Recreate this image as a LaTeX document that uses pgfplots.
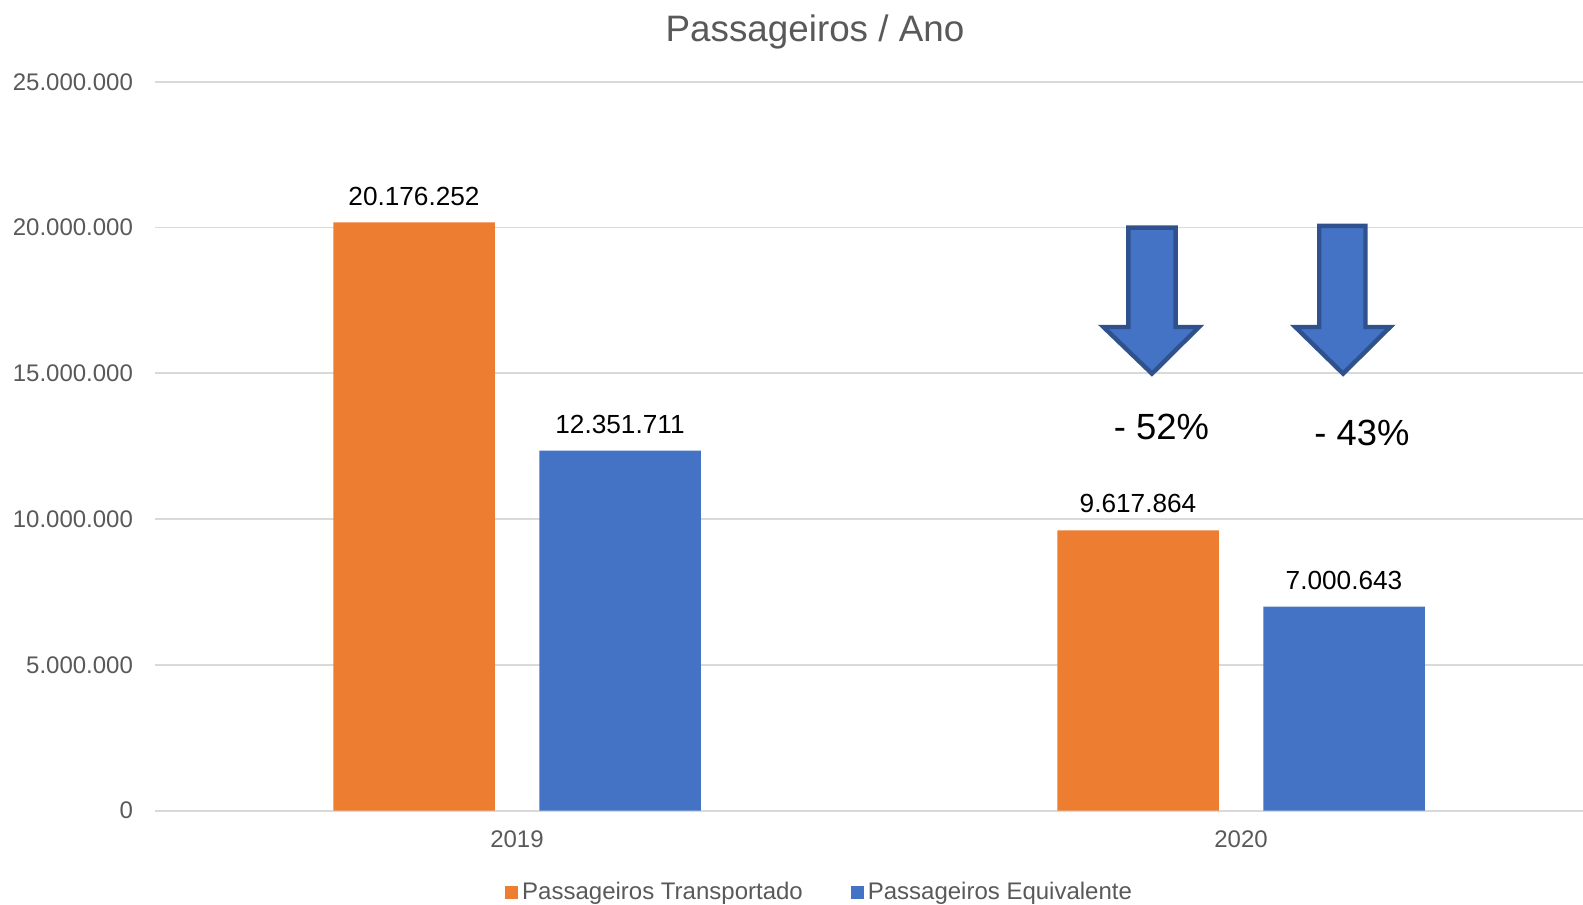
\documentclass[border=0pt]{standalone}
\usepackage{pgfplots}
\pgfplotsset{compat=1.18}
\usepackage{fontspec}
\setmainfont{Liberation Sans}
\definecolor{cOrange}{HTML}{ED7D31}
\definecolor{cBlue}{HTML}{4472C4}
\definecolor{cBorder}{HTML}{2F528F}
\definecolor{cGrid}{HTML}{D9D9D9}
\definecolor{cText}{HTML}{595959}
\begin{document}
\begin{tikzpicture}
\path[use as bounding box] (-77.5pt,-46.65pt) rectangle (714pt,405.35pt);
\begin{axis}[
  at={(0,0)}, anchor=south west,
  scale only axis, width=724pt, height=364.45pt,
  xmin=-0.5, xmax=1.5, ymin=0, ymax=25000000,
  axis line style={draw=none},
  major tick length=0pt,
  xtick={0,1}, xticklabels={2019,2020},
  ytick={0,5000000,10000000,15000000,20000000,25000000},
  yticklabels={0,5.000.000,10.000.000,15.000.000,20.000.000,25.000.000},
  scaled y ticks=false,
  ymajorgrids, grid style={cGrid, line width=0.9pt},
  tick label style={font=\fontsize{12}{14}\selectfont, text=cText},
  yticklabel style={anchor=east, xshift=-7.5pt},
  xticklabel style={yshift=-6.5pt},
  ybar, bar width=80.75pt,
  point meta=explicit symbolic,
  nodes near coords,
  every node near coord/.append style={font=\fontsize{13.1}{15}\selectfont, text=black, yshift=5pt},
  legend columns=2,
  legend style={draw=none, fill=none, at={(0.2416,0)}, anchor=west, yshift=-40.8pt,
    font=\fontsize{12}{14}\selectfont, text=cText, inner sep=0pt,
    /tikz/every even column/.append style={column sep=22pt}},
  legend image code/.code={\fill[#1] (0pt,-3.25pt) rectangle (6.5pt,3.25pt);},
  clip=false,
]
\addplot[fill=cOrange, draw=none, bar shift=-51.5pt] coordinates {(0,20176252) [20.176.252] (1,9617864) [9.617.864]};
\addlegendentry{Passageiros Transportado}
\addplot[fill=cBlue, draw=none, bar shift=51.5pt] coordinates {(0,12351711) [12.351.711] (1,7000643) [7.000.643]};
\addlegendentry{Passageiros Equivalente}
\draw[fill=cBlue, draw=cBorder, line width=2.2pt, line join=miter]
  (axis cs:0.8445,20000000) -- (axis cs:0.9096,20000000) -- (axis cs:0.9096,16590000) --
  (axis cs:0.942,16590000) -- (axis cs:0.877,14990000) -- (axis cs:0.810,16590000) --
  (axis cs:0.8445,16590000) -- cycle;
\draw[fill=cBlue, draw=cBorder, line width=2.2pt, line join=miter]
  (axis cs:1.108,20060000) -- (axis cs:1.172,20060000) -- (axis cs:1.172,16590000) --
  (axis cs:1.206,16590000) -- (axis cs:1.141,14990000) -- (axis cs:1.075,16590000) --
  (axis cs:1.108,16590000) -- cycle;
\node[font=\fontsize{18.2}{20}\selectfont, text=black] at (axis cs:0.890,13160000) {- 52\%};
\node[font=\fontsize{18.2}{20}\selectfont, text=black] at (axis cs:1.167,12950000) {- 43\%};
\node[font=\fontsize{18.4}{20}\selectfont, text=cText] at (rel axis cs:0.4558,1) [yshift=24.75pt] {Passageiros / Ano};
\end{axis}
\end{tikzpicture}
\end{document}
